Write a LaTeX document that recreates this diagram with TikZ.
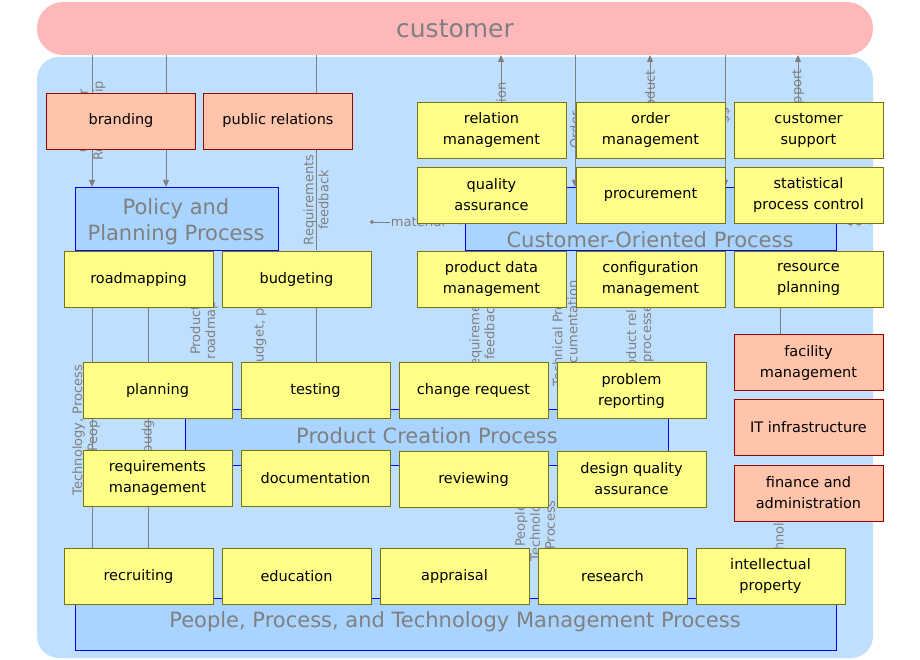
\documentclass[tikz,border=0pt]{standalone}
\usepackage{fontspec}
\setmainfont{DejaVu Sans}
\usetikzlibrary{positioning,arrows.meta}
\definecolor{custpink}{HTML}{FFB8BA}
\definecolor{bgblue}{HTML}{BFDFFF}
\definecolor{procblue}{HTML}{A8D4FF}
\definecolor{boxyellow}{HTML}{FFFF88}
\definecolor{boxsalmon}{HTML}{FFC4AA}
\definecolor{labelgray}{HTML}{808080}
\begin{document}
\begin{tikzpicture}
            [%%%%%%%%%%%%%%%%%%%%%%%%%%%%%%%%%%%%%%%%%%%%%%%%%%%%%%%%%%
                x=1pt,y=-1pt,>={Triangle[length=7pt,width=6pt]},
                act/.style={draw=olive!80!black,fill=boxyellow,minimum width=149pt,
                              minimum height=56pt,align=center,inner sep=1pt,
                              font=\fontsize{14.5}{21}\selectfont},
                supp/.style={act,draw=red!60!black,fill=boxsalmon},
                proc/.style={draw=blue,fill=procblue,anchor=north west,
                              inner sep=0pt},
                title/.style={text=labelgray,font=\fontsize{21}{26}\selectfont,align=center},
                flow/.style={draw=labelgray,thick},
                flowlabel/.style={text=labelgray,rotate=90,align=center,inner sep=1pt,
                              font=\fontsize{13}{15}\selectfont}
            ]%%%%%%%%%%%%%%%%%%%%%%%%%%%%%%%%%%%%%%%%%%%%%%%%%%%%%%%%%%
            \useasboundingbox (0,0) rectangle (920,660);
            \fill[bgblue,rounded corners=22pt] (37,57) rectangle (873,658);
            \node[fill=custpink,rounded corners=26pt,minimum width=836pt,minimum height=53pt,
                  text=labelgray,font=\fontsize{25}{30}\selectfont] (customer) at (455,28.5) {customer};

            % processes
            \node[proc,minimum width=203pt,minimum height=63pt] (ppp) at (75,187) {};
            \node[title] at (176,222) {Policy and\\Planning Process};
            \node[proc,minimum width=371pt,minimum height=63pt] (cop) at (465,187) {};
            \node[title] at (650,240) {Customer-Oriented Process};
            \node[proc,minimum width=483pt,minimum height=56pt] (pcp) at (185,409) {};
            \node[title] at (427,436) {Product Creation Process};
            \node[proc,minimum width=761pt,minimum height=52pt] (pptm) at (75,598) {};
            \node[title] at (455,622) {People, Process, and Technology Management Process};

            % flows
            \draw[flow,->] (92,55) -- (92,187);
            \draw[flow,->] (166,55) -- (166,187);
            \node[flowlabel] at (92,121) {Customer\\Relationship};
            \node[flowlabel] at (160,121) {Brands};
            \draw[flow] (316,55) -- (316,250);
            \node[flowlabel] at (316,200) {Requirements\\feedback};
            \draw[flow,->] (501,102) -- (501,55);
            \node[flowlabel] at (501,120) {Information};
            \draw[flow,->] (575,55) -- (575,187);
            \node[flowlabel] at (575,130) {Order};
            \draw[flow,->] (650,102) -- (650,55);
            \node[flowlabel] at (650,95) {Product};
            \draw[flow,->] (725,55) -- (725,187);
            \node[flowlabel] at (725,115) {\$\$};
            \draw[flow,->] (798,102) -- (798,55);
            \node[flowlabel] at (798,95) {Support};
            \draw[flow,{Circle[length=4pt]}-{Triangle[length=6pt,width=5pt]}] (370,222) -- (465,222);
            \node[text=labelgray,fill=bgblue,inner sep=1pt,font=\fontsize{13}{15}\selectfont] at (418,222) {material};
            \draw[flow,{Circle[length=4pt]}-{Triangle[length=6pt,width=5pt]}] (836,222) -- (875,222);
            \node[text=labelgray,fill=bgblue,inner sep=1pt,font=\fontsize{13}{15}\selectfont] at (855,222) {\$\$};
            \draw[flow] (92,307) -- (92,598);
            \draw[flow] (148,307) -- (148,598);
            \node[flowlabel] at (86,430) {Technology, Process\\People};
            \node[flowlabel] at (148,430) {budget};
            \node[flowlabel] at (204,330) {Product\\roadmap};
            \node[flowlabel] at (260,330) {Budget, plan};
            \draw[flow] (316,307) -- (316,363);
            \node[flowlabel] at (306,290) {Plan};
            \node[flowlabel] at (482,330) {Requirements\\feedback};
            \node[flowlabel] at (565,330) {Technical Product\\documentation};
            \node[flowlabel] at (640,330) {Product related\\processes};
            \node[flowlabel] at (535,525) {People\\Technology\\Process};
            \draw[flow] (780,307) -- (780,335);
            \node[flowlabel] at (780,535) {Technology};

            % customer oriented
            \node[act] (relm) at (491.5,130) {relation\\management};
            \node[act] (ordm) at (650.5,130) {order\\management};
            \node[act] (csup) at (808.5,130) {customer\\support};
            \node[act] (qa) at (491.5,195) {quality\\assurance};
            \node[act] (proc) at (650.5,195) {procurement};
            \node[act] (spc) at (808.5,195) {statistical\\process control};
            \node[act] (pdm) at (491.5,279) {product data\\management};
            \node[act] (cm) at (650.5,279) {configuration\\management};
            \node[act] (rp) at (808.5,279) {resource\\planning};
            % policy
            \node[supp] (brand) at (121,121) {branding};
            \node[supp] (pr) at (278,121) {public relations};
            \node[act] (road) at (138.5,279) {roadmapping};
            \node[act] (budg) at (296.5,279) {budgeting};
            % product creation
            \node[act] (plan) at (157.5,390.5) {planning};
            \node[act] (test) at (315.5,390.5) {testing};
            \node[act] (cr) at (473.5,390.5) {change request};
            \node[act] (prob) at (631.5,390.5) {problem\\reporting};
            \node[act] (reqm) at (157.5,478) {requirements\\management};
            \node[act] (doc) at (315.5,478) {documentation};
            \node[act] (rev) at (473.5,479) {reviewing};
            \node[act] (dqa) at (631.5,479) {design quality\\assurance};
            % support
            \node[supp] (fac) at (808.5,362.5) {facility\\management};
            \node[supp] (it) at (808.5,427.5) {IT infrastructure};
            \node[supp] (fin) at (808.5,493) {finance and\\administration};
            % people process technology
            \node[act] (recr) at (138.5,576) {recruiting};
            \node[act] (edu) at (296.5,576) {education};
            \node[act] (appr) at (454.5,576) {appraisal};
            \node[act] (res) at (612.5,576) {research};
            \node[act] (ip) at (770.5,576) {intellectual\\property};
        \end{tikzpicture}
\end{document}
